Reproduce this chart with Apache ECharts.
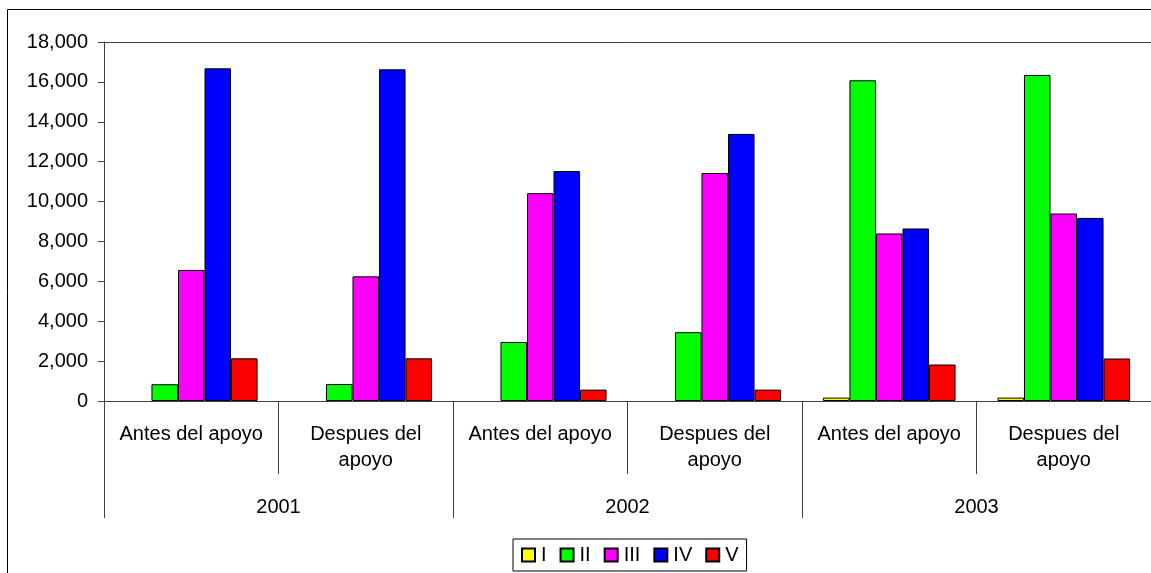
<!DOCTYPE html>
<html>
<head>
<meta charset="utf-8">
<script src="https://cdn.jsdelivr.net/npm/echarts@6/dist/echarts.min.js"></script>
<style>
html,body{margin:0;padding:0;background:#fff;}
#chart{width:1151px;height:573px;}
</style>
</head>
<body>
<div id="chart"></div>
<script>
// Categories (inner level) and years (outer level)
const categories = ["Antes del apoyo", "Despues del\napoyo", "Antes del apoyo", "Despues del\napoyo", "Antes del apoyo", "Despues del\napoyo"];
const years = ["2001", "2002", "2003"];
const seriesNames = ["I", "II", "III", "IV", "V"];
// Series values
const valuesI   = [null, null, null, null, 170, 170];
const valuesII  = [840, 850, 2960, 3450, 16080, 16350];
const valuesIII = [6570, 6250, 10420, 11430, 8400, 9400];
const valuesIV  = [16680, 16630, 11530, 13390, 8650, 9180];
const valuesV   = [2140, 2140, 570, 570, 1830, 2130];
const colors = ["#FFFF00", "#00FF00", "#FF00FF", "#0000FF", "#FF0000"];
const yTicks = { min: 0, max: 18000, interval: 2000 };

const allValues = [valuesI, valuesII, valuesIII, valuesIV, valuesV];
const font = "'Liberation Sans', Arial, sans-serif";
const axisColor = "#404040";

const chart = echarts.init(document.getElementById('chart'), null, {renderer: 'canvas'});
chart.setOption({
  animation: false,
  backgroundColor: '#fff',
  textStyle: { fontFamily: font, color: '#000' },
  graphic: [{
    type: 'rect',
    shape: { x: 7.5, y: 9.5, width: 1300, height: 700 },
    style: { fill: 'none', stroke: '#000', lineWidth: 1 },
    silent: true, z: 0
  }],
  grid: {
    left: 104, right: 0, top: 42, bottom: 172,
    show: false
  },
  legend: {
    left: 513, top: 539,
    padding: [6, 8, 6, 8],
    itemGap: 13,
    itemWidth: 13, itemHeight: 13,
    icon: 'rect',
    borderColor: '#000', borderWidth: 1,
    backgroundColor: '#fff',
    textStyle: { fontFamily: font, fontSize: 20, color: '#000', lineHeight: 20, padding: [0, 0, 0, 1] },
    data: seriesNames
  },
  xAxis: [{
    type: 'category',
    data: categories,
    position: 'bottom',
    axisLine: { show: true, lineStyle: { color: axisColor, width: 1 } },
    axisTick: { show: true, interval: 0, length: 73, lineStyle: { color: axisColor } },
    axisLabel: { interval: 0, margin: 20, fontSize: 20, lineHeight: 26, color: '#000', fontFamily: font },
    splitLine: { show: false }
  }, {
    type: 'category',
    data: years,
    position: 'bottom',
    axisLine: { show: false },
    axisTick: { show: true, interval: 0, length: 117, lineStyle: { color: axisColor } },
    axisLabel: { interval: 0, margin: 93, fontSize: 20, lineHeight: 26, color: '#000', fontFamily: font },
    splitLine: { show: false }
  }, {
    type: 'category',
    data: years,
    position: 'top',
    axisLine: { show: true, lineStyle: { color: axisColor, width: 1 } },
    axisTick: { show: false },
    axisLabel: { show: false },
    splitLine: { show: false }
  }],
  yAxis: {
    type: 'value',
    min: yTicks.min, max: yTicks.max, interval: yTicks.interval,
    axisLine: { show: true, lineStyle: { color: axisColor, width: 1 } },
    axisTick: { show: true, length: 6, lineStyle: { color: axisColor } },
    axisLabel: {
      margin: 16, fontSize: 20, color: '#000', fontFamily: font,
      formatter: v => v.toLocaleString('en-US')
    },
    splitLine: { show: false }
  },
  series: seriesNames.map((name, i) => ({
    name: name,
    type: 'bar',
    xAxisIndex: 0,
    data: allValues[i],
    barGap: '0%',
    barCategoryGap: '24%',
    itemStyle: { color: colors[i], borderColor: '#000', borderWidth: 1 }
  }))
});
</script>
</body>
</html>
